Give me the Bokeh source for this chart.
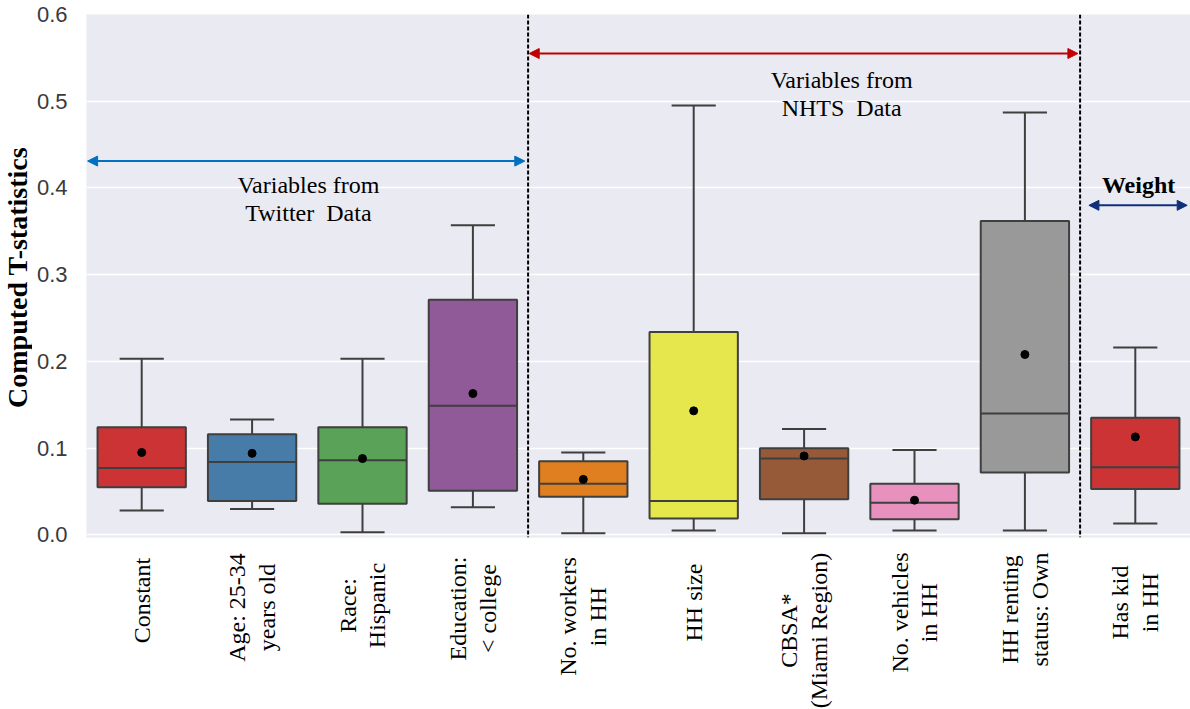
import numpy as np
from bokeh.plotting import figure
from bokeh.layouts import column, row
from bokeh.models import Range1d, FixedTicker, Span, Arrow, NormalHead, Label
from bokeh.core.properties import value
from bokeh.embed import file_html
from bokeh.resources import INLINE

# ---------------- data ----------------
categories = ["Constant", "Age: 25-34\nyears old", "Race:\nHispanic", "Education:\n< college",
              "No. workers\nin HH", "HH size", "CBSA*\n(Miami Region)", "No. vehicles\nin HH",
              "HH renting\nstatus: Own", "Has kid\nin HH"]
whisker_low = [0.028, 0.030, 0.003, 0.032, 0.002, 0.005, 0.002, 0.005, 0.005, 0.013]
q1 = [0.055, 0.039, 0.036, 0.051, 0.044, 0.019, 0.041, 0.018, 0.072, 0.053]
median = [0.077, 0.084, 0.086, 0.149, 0.059, 0.039, 0.088, 0.037, 0.140, 0.078]
q3 = [0.124, 0.116, 0.124, 0.271, 0.085, 0.234, 0.100, 0.059, 0.362, 0.135]
whisker_high = [0.203, 0.133, 0.203, 0.357, 0.095, 0.495, 0.122, 0.098, 0.487, 0.216]
mean = [0.095, 0.094, 0.088, 0.163, 0.064, 0.143, 0.091, 0.040, 0.208, 0.113]
colors = ["#CB3335", "#477CA8", "#59A257", "#905998", "#DF7F20", "#E6E64D",
          "#965A38", "#E890BE", "#999999", "#CB3335"]

y_ticks = [0.0, 0.1, 0.2, 0.3, 0.4, 0.5, 0.6]
y_title = "Computed T-statistics"

group_lines = [
    {"text": ["Variables from", "Twitter\u00a0\u00a0Data"], "x": 1.51, "y": [0.403, 0.371],
     "arrow": (-0.49, 3.47, 0.431), "color": "#0070C0", "bold": False},
    {"text": ["Variables from", "NHTS\u00a0\u00a0Data"], "x": 6.34, "y": [0.524, 0.492],
     "arrow": (3.51, 8.48, 0.555), "color": "#C00000", "bold": False},
    {"text": ["Weight"], "x": 9.03, "y": [0.403],
     "arrow": (8.58, 9.47, 0.380), "color": "#10307A", "bold": True},
]
dividers = [3.5, 8.5]

# ---------------- layout constants ----------------
W = 1190
TITLE_W = 32            # strip holding the rotated y title
FRAME_LEFT = 86         # x of the plot frame
B_TOP = 14
FRAME_H = 523
B_BOTTOM = 11
MAIN_H = B_TOP + FRAME_H + B_BOTTOM
LABEL_H = 709 - MAIN_H
Y0, Y1 = -0.003, 0.6

# vertical centre (px below the plot frame) of each rotated category label block
label_centre_px = [63, 70, 68, 71, 79, 65, 93, 75, 72, 65]

x = list(range(len(categories)))

# ---------------- y title strip ----------------
t = figure(width=TITLE_W, height=MAIN_H, output_backend="svg", toolbar_location=None,
           x_range=Range1d(0, TITLE_W), y_range=Range1d(MAIN_H, 0),
           x_axis_type=None, y_axis_type=None, min_border=0)
t.background_fill_color = "white"
t.border_fill_color = "white"
t.outline_line_color = None
t.grid.visible = False
t.text(x=[16.5], y=[B_TOP + FRAME_H / 2], text=[y_title], angle=np.pi / 2,
       text_align="center", text_baseline="middle",
       text_font=value("Liberation Serif"), text_font_style="bold",
       text_font_size="28px", text_color="black")

# ---------------- main plot ----------------
p = figure(width=W - TITLE_W, height=MAIN_H, output_backend="svg", toolbar_location=None,
           x_range=Range1d(-0.5, len(categories) - 0.5), y_range=Range1d(Y0, Y1),
           x_axis_type=None,
           min_border_left=FRAME_LEFT - TITLE_W, min_border_right=0, min_border_top=B_TOP,
           min_border_bottom=B_BOTTOM)
p.background_fill_color = "#EAEAF2"
p.border_fill_color = "white"
p.outline_line_color = None

p.xgrid.grid_line_color = None
p.ygrid.grid_line_color = "white"
p.ygrid.grid_line_width = 1.5

p.yaxis.ticker = FixedTicker(ticks=y_ticks)
p.yaxis.major_label_overrides = {t_: f"{t_:.1f}" for t_ in y_ticks}
p.yaxis.axis_line_color = None
p.yaxis.major_tick_line_color = None
p.yaxis.minor_tick_line_color = None
p.yaxis.major_label_text_font = "Liberation Sans"
p.yaxis.major_label_text_font_size = "22px"
p.yaxis.major_label_text_color = "#3a3a3a"
p.yaxis.major_label_standoff = 13

edge = "#3f3f3f"
# whiskers
p.segment(x0=x, y0=q3, x1=x, y1=whisker_high, line_color=edge, line_width=2)
p.segment(x0=x, y0=q1, x1=x, y1=whisker_low, line_color=edge, line_width=2)
cap = 0.2
p.segment(x0=[i - cap for i in x], y0=whisker_high, x1=[i + cap for i in x], y1=whisker_high,
          line_color=edge, line_width=2)
p.segment(x0=[i - cap for i in x], y0=whisker_low, x1=[i + cap for i in x], y1=whisker_low,
          line_color=edge, line_width=2)
# boxes
p.vbar(x=x, width=0.8, top=q3, bottom=q1, fill_color=colors, line_color=edge, line_width=2)
# medians
p.segment(x0=[i - 0.4 for i in x], y0=median, x1=[i + 0.4 for i in x], y1=median,
          line_color=edge, line_width=2)
# means
p.scatter(x=x, y=mean, size=8, color="black")

for d in dividers:
    p.add_layout(Span(location=d, dimension="height", line_color="black",
                      line_width=2, line_dash="4 2"))

for g in group_lines:
    x0, x1, ya = g["arrow"]
    c = g["color"]
    p.add_layout(Arrow(x_start=x0, y_start=ya, x_end=x1, y_end=ya, line_color=c, line_width=2,
                       start=NormalHead(size=10, fill_color=c, line_color=c),
                       end=NormalHead(size=10, fill_color=c, line_color=c)))
    for tx, yy in zip(g["text"], g["y"]):
        p.add_layout(Label(x=g["x"], y=yy, text=tx, text_align="center", text_baseline="middle",
                           text_font="Liberation Serif", text_font_size="24px",
                           text_font_style="bold" if g["bold"] else "normal",
                           text_color="black"))

# ---------------- category label strip (shares the x scale) ----------------
q = figure(width=W, height=LABEL_H, output_backend="svg", toolbar_location=None,
           x_range=p.x_range, y_range=Range1d(B_BOTTOM + LABEL_H, B_BOTTOM),
           x_axis_type=None, y_axis_type=None,
           min_border_left=FRAME_LEFT, min_border_right=0, min_border_top=0, min_border_bottom=0)
q.background_fill_color = "white"
q.border_fill_color = "white"
q.outline_line_color = None
q.grid.visible = False
q.text(x=x, y=label_centre_px, text=categories, angle=np.pi / 2,
       text_align="center", text_baseline="middle",
       text_font=value("Liberation Serif"), text_font_size="24px",
       text_color="black", text_line_height=1.15)

layout = column(row(t, p, spacing=0), q, spacing=0)
open("out.html", "w").write(file_html(layout, INLINE))
